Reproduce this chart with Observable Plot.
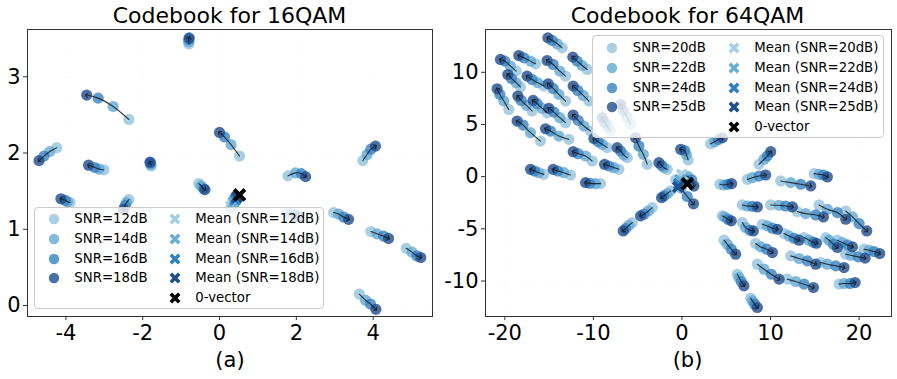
<!DOCTYPE html>
<html><head><meta charset="utf-8">
<script src="https://cdn.jsdelivr.net/npm/d3@7"></script>
<script src="https://cdn.jsdelivr.net/npm/@observablehq/plot@0.6"></script>
<style>
body{margin:0;background:#fff;}
#root{position:relative;width:897px;height:379px;font-family:"DejaVu Sans",sans-serif;overflow:hidden;background:#fff;}
.ptitle{position:absolute;top:5px;font-size:22px;line-height:22px;white-space:nowrap;transform:translateX(-50%);color:#000;}
.xlab{position:absolute;top:350px;font-size:21px;line-height:21px;white-space:nowrap;transform:translateX(-50%);color:#000;}
.leg{position:absolute;background:rgba(255,255,255,0.8);border:1px solid #cccccc;border-radius:4px;box-sizing:border-box;}
.leg span{position:absolute;font-size:13.3px;line-height:14px;white-space:nowrap;color:#000;transform:translateY(-50%);}
.leg svg{position:absolute;overflow:visible;}
.pan{position:absolute;top:0;}
</style>
</head><body><div id="root"></div>
<script>
// ---------- 16QAM (left panel) ----------
const q16_xTicks = [-4, -2, 0, 2, 4];
const q16_yTicks = [0, 1, 2, 3];
const q16_title = "Codebook for 16QAM";
const q16_xlabel = "(a)";
const q16_snrLabels = ["SNR=12dB", "SNR=14dB", "SNR=16dB", "SNR=18dB"];
const q16_meanLabels = ["Mean (SNR=12dB)", "Mean (SNR=14dB)", "Mean (SNR=16dB)", "Mean (SNR=18dB)", "0-vector"];
const q16_snr12 = [[-0.80,3.43],[-2.36,2.44],[0.52,1.96],[-4.24,2.07],[-3.01,1.78],[-1.78,1.83],[3.73,1.90],[1.78,1.70],[-0.54,1.60],[-3.89,1.35],[-2.36,1.39],[0.30,1.28],[2.97,1.22],[3.94,0.97],[4.86,0.75],[3.64,0.15],[1.75,1.22]];
const q16_snr14 = [[-0.80,3.46],[-2.77,2.61],[0.30,2.11],[-4.42,2.02],[-3.14,1.79],[-1.79,1.85],[3.84,1.98],[1.98,1.74],[-0.48,1.57],[-3.96,1.36],[-2.42,1.35],[0.35,1.33],[3.10,1.20],[4.10,0.94],[5.01,0.70],[3.80,0.07],[1.85,1.21]];
const q16_snr16 = [[-0.80,3.49],[-3.16,2.72],[0.13,2.21],[-4.57,1.96],[-3.25,1.81],[-1.80,1.87],[3.94,2.05],[2.13,1.73],[-0.41,1.53],[-4.02,1.38],[-2.46,1.31],[0.40,1.38],[3.23,1.16],[4.27,0.91],[5.14,0.65],[3.93,0.02],[1.95,1.19]];
const q16_snr18 = [[-0.79,3.51],[-3.46,2.76],[0.00,2.27],[-4.70,1.90],[-3.41,1.84],[-1.81,1.88],[4.06,2.09],[2.24,1.69],[-0.38,1.52],[-4.13,1.40],[-2.50,1.26],[0.45,1.42],[3.36,1.13],[4.40,0.88],[5.24,0.63],[4.07,-0.05],[2.05,1.17]];
const q16_means = [[0.30,1.30],[0.36,1.35],[0.41,1.39],[0.45,1.42]];
const q16_zero = [[0.52,1.45]];

// ---------- 64QAM (right panel) ----------
const q64_xTicks = [-20, -10, 0, 10, 20];
const q64_yTicks = [-10, -5, 0, 5, 10];
const q64_title = "Codebook for 64QAM";
const q64_xlabel = "(b)";
const q64_snrLabels = ["SNR=20dB", "SNR=22dB", "SNR=24dB", "SNR=25dB"];
const q64_meanLabels = ["Mean (SNR=20dB)", "Mean (SNR=22dB)", "Mean (SNR=24dB)", "Mean (SNR=25dB)", "0-vector"];
const q64_snr20 = [[-13.52,12.34],[-18.72,10.11],[-16.53,10.81],[-13.14,9.63],[-10.70,10.27],[-18.23,8.58],[-15.59,8.68],[-13.14,7.24],[-10.51,7.24],[-19.55,6.44],[-16.91,6.28],[-15.22,6.12],[-13.14,5.17],[-10.32,4.37],[-15.97,3.41],[-12.77,3.57],[-10.13,1.50],[-8.44,2.78],[-7.12,0.70],[-6.18,1.82],[-15.59,0.22],[-12.58,0.16],[-9.19,-0.67],[-3.92,1.18],[-1.66,0.70],[-8.06,4.37],[-5.80,5.00],[3.24,3.16],[0.70,1.60],[-1.28,-1.37],[-3.35,-2.97],[-5.61,-4.40],[-0.70,-0.30],[0.20,0.10],[8.70,1.18],[7.38,-0.26],[4.29,-0.73],[11.15,-0.41],[14.92,0.29],[6.82,-2.71],[10.02,-2.71],[13.03,-3.35],[15.48,-2.71],[18.49,-3.29],[4.56,-3.76],[6.82,-4.40],[9.08,-4.56],[11.53,-5.45],[13.79,-5.84],[16.23,-5.84],[17.55,-6.09],[18.49,-7.43],[20.56,-6.95],[4.75,-6.09],[8.51,-8.39],[8.32,-6.41],[12.28,-7.59],[15.67,-8.23],[11.90,-9.82],[17.74,-10.30],[6.25,-9.35],[7.76,-11.64]];
const q64_snr22 = [[-14.09,12.73],[-19.36,10.59],[-17.10,11.07],[-13.79,10.11],[-11.26,10.65],[-18.72,9.00],[-16.27,9.00],[-13.90,7.88],[-11.15,7.78],[-20.11,7.24],[-17.55,6.83],[-15.78,6.54],[-13.79,5.65],[-11.07,4.85],[-17.10,4.21],[-13.90,3.89],[-10.88,1.98],[-9.00,3.09],[-7.68,0.86],[-6.55,2.07],[-16.16,0.38],[-13.33,0.38],[-9.76,-0.67],[-4.37,2.14],[-2.03,0.86],[-8.40,4.80],[-6.20,5.70],[3.70,3.35],[0.50,2.10],[-1.66,-1.63],[-3.80,-3.29],[-5.99,-4.66],[-0.10,-1.10],[0.70,0.00],[9.27,1.66],[7.95,-0.10],[4.75,-0.80],[12.28,-0.57],[15.48,0.22],[7.38,-2.81],[10.96,-2.74],[13.97,-3.54],[16.42,-3.13],[19.25,-3.86],[4.82,-3.86],[7.19,-4.88],[9.64,-4.72],[12.09,-5.68],[14.35,-6.09],[16.61,-6.09],[18.12,-6.32],[19.06,-7.53],[21.13,-7.05],[5.12,-6.48],[9.27,-8.87],[8.89,-6.73],[13.22,-7.85],[16.42,-8.39],[12.84,-10.05],[18.30,-10.24],[6.44,-9.66],[7.95,-11.90]];
const q64_snr24 = [[-14.65,13.05],[-20.00,11.07],[-17.85,11.39],[-14.54,10.75],[-11.83,11.07],[-19.25,9.41],[-16.91,9.31],[-14.54,8.45],[-11.75,8.26],[-20.56,7.88],[-18.15,7.30],[-16.35,6.99],[-14.46,6.19],[-11.71,5.39],[-17.93,4.94],[-14.84,4.37],[-11.71,2.20],[-9.45,3.35],[-8.25,1.02],[-6.93,2.46],[-16.65,0.54],[-14.01,0.54],[-10.40,-0.64],[-4.86,2.93],[-2.30,1.08],[-8.70,5.20],[-6.60,6.30],[4.10,3.55],[0.30,2.50],[-2.03,-1.85],[-4.29,-3.60],[-6.37,-4.98],[0.60,-1.90],[1.10,-0.30],[9.64,1.98],[8.70,0.06],[5.20,-0.73],[13.41,-0.73],[15.97,0.16],[7.95,-2.84],[11.71,-2.81],[15.10,-3.67],[17.55,-3.44],[20.00,-4.50],[5.20,-4.08],[7.68,-5.14],[10.21,-4.94],[12.66,-5.90],[14.84,-6.28],[17.10,-6.47],[18.68,-6.54],[19.89,-7.69],[21.69,-7.18],[5.57,-6.95],[10.09,-9.35],[9.57,-6.95],[14.16,-8.07],[17.36,-8.55],[13.79,-10.30],[18.98,-10.24],[6.70,-10.05],[8.21,-12.22]];
const q64_snr25 = [[-15.14,13.30],[-20.49,11.23],[-18.42,11.61],[-15.22,11.13],[-12.32,11.45],[-19.66,9.79],[-17.48,9.63],[-15.10,8.90],[-12.28,8.68],[-20.87,8.42],[-18.53,7.72],[-16.80,7.30],[-15.03,6.54],[-12.28,5.90],[-18.61,5.33],[-15.40,4.59],[-12.28,2.39],[-9.94,3.64],[-8.74,1.18],[-7.31,2.78],[-17.10,0.70],[-14.54,0.70],[-10.88,-0.57],[-5.24,3.73],[-2.60,1.34],[-9.00,5.65],[-6.93,6.92],[4.56,3.73],[-0.15,2.62],[-2.30,-2.01],[-4.67,-3.76],[-6.63,-5.20],[1.30,-2.60],[1.35,-0.90],[10.02,2.39],[9.45,0.16],[5.61,-0.67],[14.54,-0.89],[16.42,-0.03],[8.51,-2.90],[12.47,-2.90],[15.97,-3.86],[18.49,-4.08],[20.87,-5.20],[5.57,-4.24],[8.06,-5.20],[10.77,-5.04],[13.22,-6.09],[15.18,-6.38],[17.55,-6.79],[19.25,-6.73],[20.68,-7.81],[22.33,-7.37],[6.06,-7.43],[10.96,-9.82],[10.21,-7.27],[15.10,-8.39],[18.30,-8.71],[14.84,-10.62],[19.55,-10.14],[7.00,-10.46],[8.51,-12.54]];
const q64_means = [[0.00,0.20],[-0.20,-0.30],[-0.35,-0.70],[-0.45,-1.00]];
const q64_zero = [[0.61,-0.67]];

const dotColors = ["#95c3df", "#63a9d3", "#3782c0", "#1e4c8f"];
const meanColors = ["#a6cee4", "#6aaed6", "#3181bd", "#1c4f8e"];

const fmt = d => (d < 0 ? "-" : "") + Math.abs(d);

function buildPanel(cfg) {
  const grid = {stroke: "#cfcfcf", strokeDasharray: "3,3", strokeWidth: 0.8};
  const marks = [
    Plot.gridX(cfg.xTicks, grid),
    Plot.gridY(cfg.yTicks, grid)
  ];
  cfg.series.forEach((s, i) => marks.push(
    Plot.dot(s, {x: d => d[0], y: d => d[1], r: 5.6, fill: dotColors[i], fillOpacity: 0.8})
  ));
  const lineRows = [];
  cfg.series[0].forEach((_, t) => cfg.series.forEach(s => lineRows.push({x: s[t][0], y: s[t][1], traj: t})));
  marks.push(Plot.line(lineRows, {x: "x", y: "y", z: "traj", stroke: "#1a1a1a", strokeWidth: 1.1, strokeOpacity: 0.85, curve: "catmull-rom", markerEnd: "arrow"}));
  cfg.means.forEach((m, i) => marks.push(
    Plot.dot([m], {x: d => d[0], y: d => d[1], symbol: "times", r: 4.5, stroke: meanColors[i], strokeWidth: 3.5})
  ));
  marks.push(Plot.dot(cfg.zero, {x: d => d[0], y: d => d[1], symbol: "times", r: 5, stroke: "#000", strokeWidth: 4}));
  marks.push(Plot.frame({stroke: "#333", strokeWidth: 1}));
  marks.push(Plot.axisX(cfg.xTicks, {tickSize: 4, tickPadding: 5, tickFormat: fmt, label: null, stroke: "#333"}));
  marks.push(Plot.axisY(cfg.yTicks, {tickSize: 4, tickPadding: 3, tickFormat: fmt, label: null, stroke: "#333"}));
  return Plot.plot({
    width: cfg.width, height: 379,
    marginLeft: cfg.marginLeft, marginRight: cfg.marginRight, marginTop: 29, marginBottom: 63,
    x: {domain: cfg.xDomain, label: null},
    y: {domain: cfg.yDomain, label: null},
    style: {fontFamily: "DejaVu Sans", fontSize: "21px", color: "#000", background: "transparent", overflow: "visible"},
    marks
  });
}

function addLegend(root, box, snrLabels, meanLabels) {
  const lg = document.createElement("div");
  lg.className = "leg";
  Object.assign(lg.style, {left: box.left + "px", top: box.top + "px", width: box.w + "px", height: box.h + "px"});
  const ns = "http://www.w3.org/2000/svg";
  function marker(cx, cy, kind, color) {
    const s = document.createElementNS(ns, "svg");
    s.setAttribute("width", 14); s.setAttribute("height", 14);
    s.style.left = (cx - 7) + "px"; s.style.top = (cy - 7) + "px";
    if (kind === "dot") {
      const c = document.createElementNS(ns, "circle");
      c.setAttribute("cx", 7); c.setAttribute("cy", 7); c.setAttribute("r", 5.2);
      c.setAttribute("fill", color); c.setAttribute("fill-opacity", 0.8);
      s.appendChild(c);
    } else {
      const p = document.createElementNS(ns, "path");
      p.setAttribute("d", "M2.8,2.8L11.2,11.2M2.8,11.2L11.2,2.8");
      p.setAttribute("stroke", color); p.setAttribute("stroke-width", 3.6);
      s.appendChild(p);
    }
    lg.appendChild(s);
  }
  function label(x, y, txt) {
    const sp = document.createElement("span");
    sp.textContent = txt;
    sp.style.left = x + "px"; sp.style.top = y + "px";
    lg.appendChild(sp);
  }
  snrLabels.forEach((t, i) => {
    const y = box.row0 + box.step * i;
    marker(box.m1, y, "dot", dotColors[i]);
    label(box.t1, y, t);
  });
  meanLabels.forEach((t, i) => {
    const y = box.row0 + box.step * i;
    marker(box.m2, y, "x", i < 4 ? meanColors[i] : "#000");
    label(box.t2, y, t);
  });
  root.appendChild(lg);
}

const root = document.getElementById("root");
function place(el, left) {
  const w = document.createElement("div");
  w.className = "pan"; w.style.left = left + "px";
  w.appendChild(el); root.appendChild(w);
}
function text(cls, x, txt) {
  const d = document.createElement("div");
  d.className = cls; d.style.left = x + "px"; d.textContent = txt;
  root.appendChild(d);
}

place(buildPanel({
  width: 440, marginLeft: 27, marginRight: 8,
  xDomain: [-5.0, 5.545], yDomain: [-0.144, 3.62],
  xTicks: q16_xTicks, yTicks: q16_yTicks,
  series: [q16_snr12, q16_snr14, q16_snr16, q16_snr18],
  means: q16_means, zero: q16_zero
}), 0);
place(buildPanel({
  width: 457, marginLeft: 45, marginRight: 6,
  xDomain: [-22.18, 23.66], yDomain: [-13.4, 14.1],
  xTicks: q64_xTicks, yTicks: q64_yTicks,
  series: [q64_snr20, q64_snr22, q64_snr24, q64_snr25],
  means: q64_means, zero: q64_zero
}), 440);

text("ptitle", 229.5, q16_title);
text("ptitle", 687.5, q64_title);
text("xlab", 230, q16_xlabel);
text("xlab", 687.5, q64_xlabel);

addLegend(root, {left: 34, top: 207, w: 290, h: 102, m1: 19.3, t1: 39.3, m2: 140, t2: 160.3, row0: 11.3, step: 19.6}, q16_snrLabels, q16_meanLabels);
addLegend(root, {left: 592, top: 35, w: 292, h: 103, m1: 18.7, t1: 39.7, m2: 141.3, t2: 161.3, row0: 12.3, step: 19.6}, q64_snrLabels, q64_meanLabels);
</script>
</body></html>
